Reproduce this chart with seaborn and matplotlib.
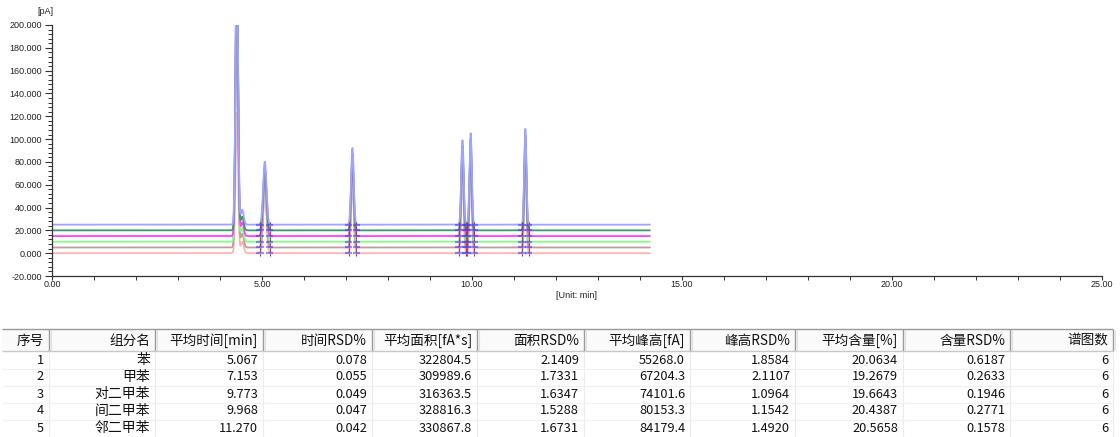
import numpy as np
import pandas as pd
import matplotlib
matplotlib.use("Agg")
import matplotlib.pyplot as plt
from matplotlib.ticker import MultipleLocator, FormatStrFormatter
import seaborn as sns

# ---- averaged results per component ----
seq_no = [1, 2, 3, 4, 5]
components = ["苯", "甲苯", "对二甲苯", "间二甲苯", "邻二甲苯"]
mean_time = [5.067, 7.153, 9.773, 9.968, 11.270]            # min
time_rsd = [0.078, 0.055, 0.049, 0.047, 0.042]
mean_area = [322804.5, 309989.6, 316363.5, 328816.3, 330867.8]  # fA*s
area_rsd = [2.1409, 1.7331, 1.6347, 1.5288, 1.6731]
mean_height = [55268.0, 67204.3, 74101.6, 80153.3, 84179.4]     # fA
height_rsd = [1.8584, 2.1107, 1.0964, 1.1542, 1.4920]
mean_content = [20.0634, 19.2679, 19.6643, 20.4387, 20.5658]   # %
content_rsd = [0.6187, 0.2633, 0.1946, 0.2771, 0.1578]
n_runs = [6, 6, 6, 6, 6]

headers = ["序号", "组分名", "平均时间[min]", "时间RSD%", "平均面积[fA*s]", "面积RSD%",
           "平均峰高[fA]", "峰高RSD%", "平均含量[%]", "含量RSD%", "谱图数"]

# ---- overlaid runs ----
run_names = ["run1", "run2", "run3", "run4", "run5", "run6"]
run_offsets = [0, 5, 10, 15, 20, 25]                         # pA
run_colors = ["#FFB4B4", "#BF9B9B", "#84FF84", "#FF40FF", "#3A9A6A", "#A2A2FF"]
solvent_time = 4.40
solvent_height = [123, 240, 240, 240, 240, 240]               # pA above baseline
solvent_tail_time = 4.53
solvent_tail_height = [10, 12, 12, 12, 12, 13]
run_end = 14.24                                               # min

# ---- build chromatograms from peak parameters ----
t = np.arange(0.0, run_end, 0.004)
heights_pA = np.array(mean_height) / 1000.0
areas_pAs = np.array(mean_area) / 1000.0
sigmas_min = areas_pAs / (heights_pA * np.sqrt(2 * np.pi)) / 60.0

frames = []
for i, name in enumerate(run_names):
    y = np.full_like(t, float(run_offsets[i]))
    y += solvent_height[i] * np.exp(-0.5 * ((t - solvent_time) / 0.03) ** 2)
    y += solvent_tail_height[i] * np.exp(-0.5 * ((t - solvent_tail_time) / 0.035) ** 2)
    for rt, h, s in zip(mean_time, heights_pA, sigmas_min):
        y += h * np.exp(-0.5 * ((t - rt) / s) ** 2)
    frames.append(pd.DataFrame({"time": t, "signal": y, "run": name}))
df = pd.concat(frames, ignore_index=True)

# ---- figure ----
sns.set_style("ticks")
plt.rcParams["font.family"] = ["Noto Sans CJK SC", "DejaVu Sans"]

W, H = 1120, 437
fig = plt.figure(figsize=(W / 100, H / 100), dpi=100)
ax = fig.add_axes([52 / W, 1 - 276 / H, 1050 / W, 251 / H])

sns.lineplot(data=df, x="time", y="signal", hue="run", hue_order=run_names,
             palette=run_colors, legend=False, estimator=None, sort=False,
             linewidth=1.3, ax=ax)

# integration markers at peak start / end
for i, off in enumerate(run_offsets):
    for rt, s in zip(mean_time, sigmas_min):
        for edge in (rt - 3 * s, rt + 3 * s):
            ax.hlines(off, edge - 0.09, edge + 0.09, colors="#3a3aff",
                      alpha=0.55, linewidth=1.6, zorder=4)
            ax.vlines(edge, off - 2.5, off + 2.5, colors="#b03040",
                      linestyles=(0, (2, 1.5)), linewidth=0.8, zorder=5)

ax.set_xlim(0, 25)
ax.set_ylim(-20, 200)
ax.xaxis.set_major_locator(MultipleLocator(5))
ax.xaxis.set_minor_locator(MultipleLocator(1))
ax.yaxis.set_major_locator(MultipleLocator(20))
ax.yaxis.set_minor_locator(MultipleLocator(4))
ax.xaxis.set_major_formatter(FormatStrFormatter("%.2f"))
ax.yaxis.set_major_formatter(FormatStrFormatter("%.3f"))
ax.tick_params(which="major", width=0.8, color="#333333",
               labelsize=6.5, labelcolor="#222222")
ax.tick_params(axis="x", which="major", length=3, pad=0)
ax.tick_params(axis="y", which="major", length=5, pad=2)
ax.tick_params(which="minor", length=3, width=0.7, color="#333333")
for lab in ax.get_xticklabels() + ax.get_yticklabels():
    lab.set_family(["Liberation Sans", "DejaVu Sans"])
for side in ("top", "right"):
    ax.spines[side].set_visible(False)
for side in ("left", "bottom"):
    ax.spines[side].set_color("#333333")
    ax.spines[side].set_linewidth(0.9)
ax.set_xlabel("[Unit: min]", fontsize=6.5, family=["Liberation Sans", "DejaVu Sans"],
              labelpad=1.5, color="#222222")
ax.set_ylabel("")
fig.text(45 / W, 1 - 11 / H, "[pA]", fontsize=6.5, ha="center", va="center",
         family=["Liberation Sans", "DejaVu Sans"], color="#222222")

# ---- results table ----
tab = fig.add_axes([0, 0, 1, 1])
tab.set_xlim(0, W)
tab.set_ylim(H, 0)
tab.axis("off")
tab.patch.set_visible(False)

col_edges = [2, 49, 155, 263, 372, 477, 584, 690, 795, 903, 1010, 1113]
head_top, head_bot = 329, 351
row_h = 17
row_centers = [360 + k * row_h for k in range(5)]

tab.fill_between([col_edges[0], col_edges[-1]], head_top, head_bot, color="#fafafa", zorder=0)
tab.hlines(head_top, col_edges[0], col_edges[-1], colors="#9a9a9a", linewidth=1.0)
tab.hlines(head_bot, col_edges[0], col_edges[-1], colors="#c8c8c8", linewidth=1.0)
for xe in col_edges[1:]:
    tab.vlines(xe, head_top, head_bot, colors="#9a9a9a", linewidth=1.0)
    tab.vlines(xe + 1.5, head_top + 1, head_bot - 1, colors="#e0e0e0", linewidth=0.8)
    tab.vlines(xe, head_bot, H, colors="#ececec", linewidth=0.8)
for yc in row_centers:
    tab.hlines(yc + row_h / 2, col_edges[0], col_edges[-1], colors="#f0f0f0", linewidth=0.8)

for j, htxt in enumerate(headers):
    tab.text(col_edges[j + 1] - 5, (head_top + head_bot) / 2 + 0.5, htxt,
             ha="right", va="center", fontsize=9.8, color="#111111")

rows = []
for k in range(len(components)):
    rows.append([f"{seq_no[k]}", components[k], f"{mean_time[k]:.3f}", f"{time_rsd[k]:.3f}",
                 f"{mean_area[k]:.1f}", f"{area_rsd[k]:.4f}", f"{mean_height[k]:.1f}",
                 f"{height_rsd[k]:.4f}", f"{mean_content[k]:.4f}", f"{content_rsd[k]:.4f}",
                 f"{n_runs[k]}"])
for k, row in enumerate(rows):
    for j, cell in enumerate(row):
        fs = 10.0 if j == 1 else 9.2
        tab.text(col_edges[j + 1] - 5, row_centers[k], cell, ha="right", va="center",
                 fontsize=fs, color="#111111")

fig.savefig("out.png", dpi=100, facecolor="white")
